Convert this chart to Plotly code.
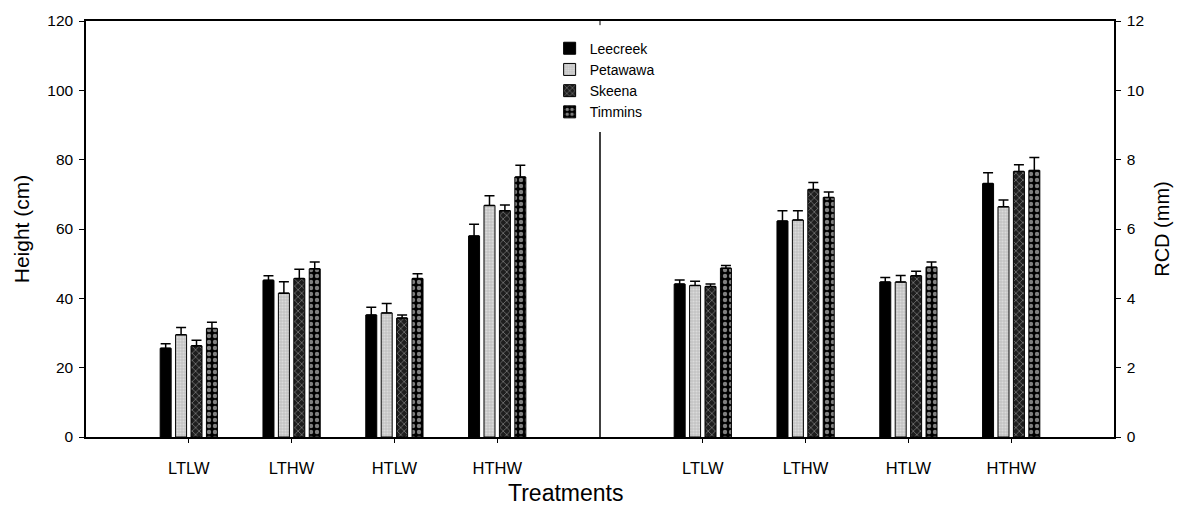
import plotly.graph_objects as go

# Treatment groups and clone sources
categories = ["LTLW", "LTHW", "HTLW", "HTHW"]
series = ["Leecreek", "Petawawa", "Skeena", "Timmins"]

# Seedling height (cm), left panel
height_leecreek = [25.6, 45.2, 35.2, 58.0]
height_petawawa = [29.5, 41.5, 35.8, 66.8]
height_skeena = [26.3, 45.7, 34.3, 65.3]
height_timmins = [31.3, 48.5, 45.7, 75.0]

height_err_leecreek = [1.3, 1.3, 2.2, 3.4]
height_err_petawawa = [2.1, 3.3, 2.7, 2.8]
height_err_skeena = [1.6, 2.7, 0.9, 1.6]
height_err_timmins = [1.8, 2.0, 1.4, 3.4]

# Root collar diameter (mm), right panel
rcd_leecreek = [4.41, 6.23, 4.47, 7.31]
rcd_petawawa = [4.37, 6.26, 4.47, 6.64]
rcd_skeena = [4.34, 7.14, 4.65, 7.66]
rcd_timmins = [4.87, 6.91, 4.90, 7.69]

rcd_err_leecreek = [0.12, 0.30, 0.13, 0.31]
rcd_err_petawawa = [0.12, 0.27, 0.19, 0.20]
rcd_err_skeena = [0.07, 0.20, 0.13, 0.19]
rcd_err_timmins = [0.08, 0.16, 0.15, 0.37]

# Positions of the two panels on a shared linear x axis
left_pos = [1, 2, 3, 4]
right_pos = [6, 7, 8, 9]
divider_pos = 5

height_vals = [height_leecreek, height_petawawa, height_skeena, height_timmins]
height_errs = [height_err_leecreek, height_err_petawawa, height_err_skeena, height_err_timmins]
rcd_vals = [rcd_leecreek, rcd_petawawa, rcd_skeena, rcd_timmins]
rcd_errs = [rcd_err_leecreek, rcd_err_petawawa, rcd_err_skeena, rcd_err_timmins]

patterns = [
    dict(shape="", bgcolor="black", fgcolor="black"),
    dict(shape=".", bgcolor="#c4c4c4", fgcolor="#f2f2f2", size=3, solidity=0.4),
    dict(shape="x", bgcolor="#1e1e1e", fgcolor="#c8c8c8", size=5, solidity=0.3),
    dict(shape=".", bgcolor="black", fgcolor="white", size=6, solidity=0.42),
]

BAR_W = 0.107
STEP = 0.15
FONT = "Arial, Liberation Sans, sans-serif"

fig = go.Figure()

for i, name in enumerate(series):
    off = (i - 1.5) * STEP - BAR_W / 2
    common = dict(
        width=BAR_W,
        offset=off,
        marker=dict(color=patterns[i]["bgcolor"], pattern=patterns[i],
                    line=dict(color="black", width=1)),
    )
    fig.add_trace(go.Bar(
        x=left_pos, y=height_vals[i], name=name, yaxis="y", legendgroup=name,
        error_y=dict(type="data", symmetric=False, array=height_errs[i],
                     arrayminus=[0] * len(categories), color="black",
                     thickness=1.5, width=5),
        **common,
    ))
    fig.add_trace(go.Bar(
        x=right_pos, y=rcd_vals[i], name=name, yaxis="y2", legendgroup=name,
        showlegend=False,
        error_y=dict(type="data", symmetric=False, array=rcd_errs[i],
                     arrayminus=[0] * len(categories), color="black",
                     thickness=1.5, width=5),
        **common,
    ))

# Vertical divider between the height and RCD panels
fig.add_shape(type="line", xref="x", yref="y", x0=divider_pos, x1=divider_pos,
              y0=0, y1=88, line=dict(color="black", width=1.5))
fig.add_shape(type="line", xref="x", yref="paper", x0=divider_pos, x1=divider_pos,
              y0=1, y1=0.99, line=dict(color="black", width=1))

fig.add_annotation(text="Treatments", xref="paper", yref="paper",
                   x=0.466, y=-0.135, yanchor="middle", showarrow=False,
                   font=dict(family=FONT, size=23, color="black"))

fig.update_layout(
    width=1199, height=510,
    margin=dict(l=86, r=85, t=18, b=73),
    paper_bgcolor="white", plot_bgcolor="white",
    barmode="overlay",
    font=dict(family=FONT, size=14, color="black"),
    showlegend=True,
    legend=dict(x=0.451, y=0.972, xanchor="left", yanchor="top",
                bgcolor="rgba(0,0,0,0)", borderwidth=0,
                font=dict(family=FONT, size=14, color="black"),
                tracegroupgap=0, itemwidth=30),
    xaxis=dict(range=[0, 10], tickvals=left_pos + right_pos,
               ticktext=categories + categories,
               showline=True, linecolor="black", linewidth=1.5, mirror=True,
               ticks="outside", ticklen=4, tickcolor="black",
               ticklabelstandoff=11, showgrid=False, zeroline=False,
               tickfont=dict(family=FONT, size=16.5, color="black")),
    yaxis=dict(range=[0, 120], dtick=20, showline=True, linecolor="black",
               linewidth=1.5, ticks="outside", ticklen=5, tickcolor="black",
               showgrid=False, zeroline=False, ticklabelstandoff=3,
               title=dict(text="Height (cm)", standoff=12,
                          font=dict(family=FONT, size=21, color="black")),
               tickfont=dict(family=FONT, size=15.5, color="black")),
    yaxis2=dict(range=[0, 12], dtick=2, overlaying="y", side="right",
                showline=True, linecolor="black", linewidth=1.5,
                ticks="outside", ticklen=5, tickcolor="black",
                showgrid=False, zeroline=False, ticklabelstandoff=3,
                title=dict(text="RCD (mm)", standoff=12,
                           font=dict(family=FONT, size=20, color="black")),
                tickfont=dict(family=FONT, size=15.5, color="black")),
)

fig.write_html("out.html")
